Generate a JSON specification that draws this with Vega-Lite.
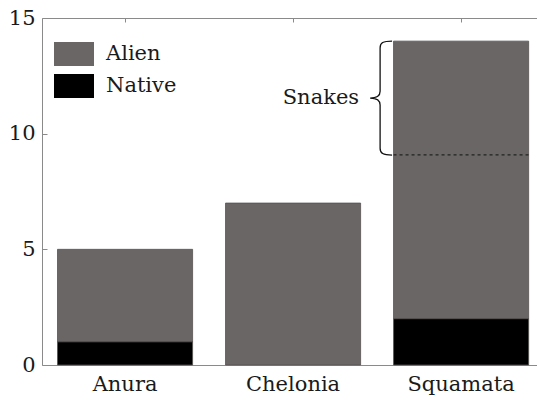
{
  "$schema": "https://vega.github.io/schema/vega-lite/v6.json",
  "width": 495,
  "height": 347,
  "autosize": {"type": "none"},
  "padding": {"left": 42, "top": 18, "right": 0, "bottom": 36},
  "background": "white",
  "config": {
    "view": {"stroke": null},
    "font": "DejaVu Serif",
    "axis": {"labelFont": "DejaVu Serif", "labelFontSize": 21, "labelColor": "#1a1a1a", "domainColor": "#8a8a8a", "tickColor": "#8a8a8a", "grid": false, "title": null},
    "legend": {"labelFont": "DejaVu Serif", "labelFontSize": 21, "labelColor": "#1a1a1a"}
  },
  "resolve": {"axis": {"x": "independent"}},
  "data": {"values": [
    {"cat": "Anura", "type": "Alien", "n": 4},
    {"cat": "Anura", "type": "Native", "n": 1},
    {"cat": "Chelonia", "type": "Alien", "n": 7},
    {"cat": "Squamata", "type": "Alien", "n": 12},
    {"cat": "Squamata", "type": "Native", "n": 2}
  ]},
  "layer": [
    {
      "mark": {"type": "bar", "stroke": "#555252", "strokeWidth": 0.8},
      "encoding": {
        "x": {"field": "cat", "type": "nominal", "sort": ["Anura", "Chelonia", "Squamata"],
              "scale": {"paddingInner": 0.196, "paddingOuter": 0.071, "align": 0.65},
              "axis": {"labelAngle": 0, "ticks": false, "labelPadding": 8, "domain": true}},
        "y": {"field": "n", "type": "quantitative", "aggregate": "sum",
              "scale": {"domain": [0, 15], "nice": false},
              "axis": {"values": [0, 5, 10, 15], "tickSize": -5, "labelPadding": 12}},
        "color": {"field": "type", "type": "nominal",
                  "scale": {"domain": ["Alien", "Native"], "range": ["#6a6665", "#000000"]},
                  "legend": {"title": null, "orient": "none", "legendX": 12, "legendY": 16,
                             "symbolType": "M-1,-0.6 H1 V0.6 H-1 Z", "symbolSize": 1600,
                             "symbolStrokeWidth": 0, "symbolOpacity": 1, "labelOffset": 12, "rowPadding": -10, "padding": 0}},
        "order": {"field": "type", "sort": "descending"}
      }
    },
    {
      "data": {"values": [{"cat": "Squamata", "v": 9.08}]},
      "mark": {"type": "rule", "strokeDash": [3, 3], "strokeWidth": 1.3, "color": "#222"},
      "encoding": {
        "x": {"field": "cat", "type": "nominal", "bandPosition": 0,
              "axis": {"orient": "top", "labels": false, "ticks": true, "tickSize": -4, "domain": true}},
        "x2": {"field": "cat", "bandPosition": 1},
        "y": {"field": "v", "type": "quantitative"}
      }
    },
    {
      "data": {"values": [{"cat": "Squamata", "v": 11.54}]},
      "mark": {"type": "point", "shape": "M0.21,-1 C0.05,-1 0,-0.97 0,-0.88 L0,-0.12 C0,-0.04 -0.05,0 -0.175,0 C-0.05,0 0,0.04 0,0.12 L0,0.88 C0,0.97 0.05,1 0.21,1", "size": 12996, "filled": false, "stroke": "#111", "strokeWidth": 1.3, "opacity": 1, "xOffset": -81},
      "encoding": {
        "x": {"field": "cat", "type": "nominal", "axis": null},
        "y": {"field": "v", "type": "quantitative"}
      }
    },
    {
      "data": {"values": [{"cat": "Squamata", "v": 11.54, "label": "Snakes"}]},
      "mark": {"type": "text", "align": "right", "baseline": "middle", "fontSize": 21, "font": "DejaVu Serif", "color": "#1a1a1a", "xOffset": -102},
      "encoding": {
        "x": {"field": "cat", "type": "nominal", "axis": null},
        "y": {"field": "v", "type": "quantitative"},
        "text": {"field": "label"}
      }
    }
  ]
}
